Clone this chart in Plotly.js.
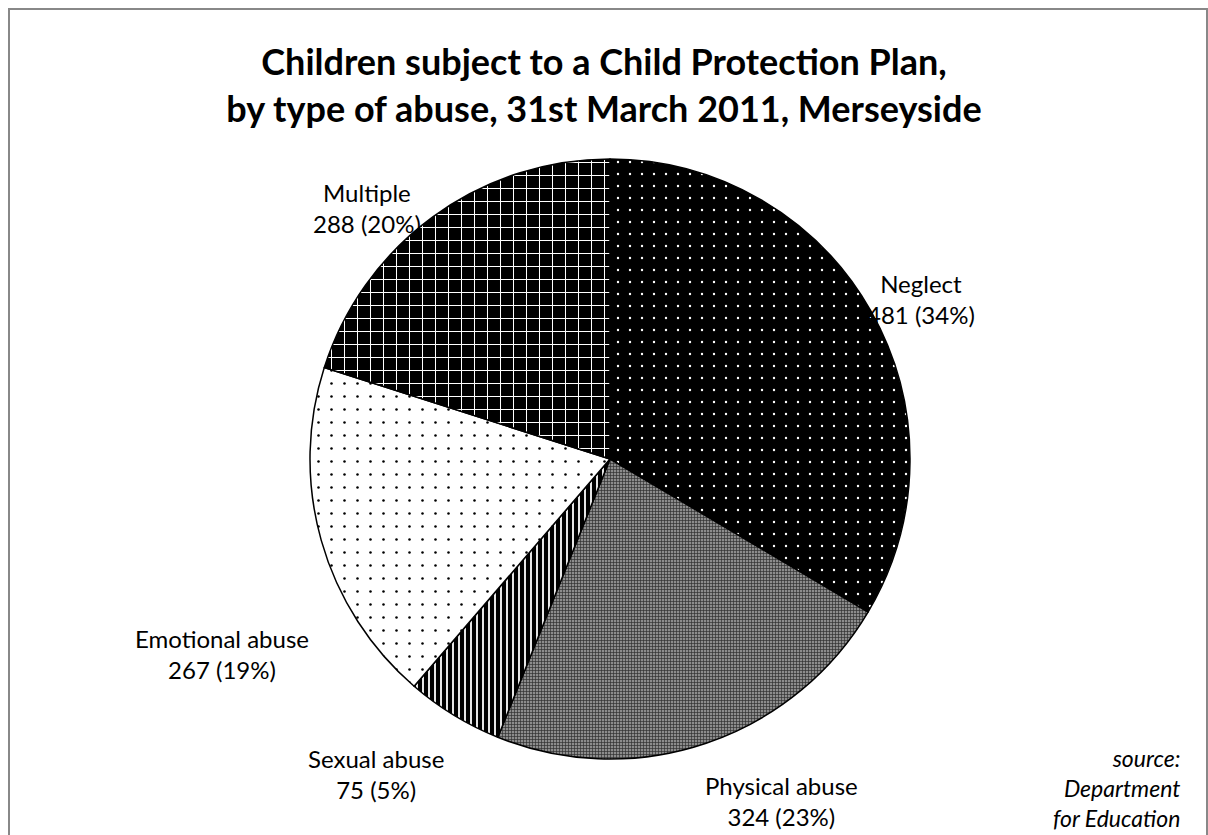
<!DOCTYPE html>
<html>
<head>
<meta charset="utf-8">
<script src="https://cdn.plot.ly/plotly-3.0.1.min.js"></script>
<style>html,body{margin:0;padding:0;background:#fff;}#chart{width:1208px;height:835px;}</style>
</head>
<body>
<div id="chart"></div>
<script>
const categories = ["Neglect", "Physical abuse", "Sexual abuse", "Emotional abuse", "Multiple"];
const counts = [481, 324, 75, 267, 288];
const titleLines = ["Children subject to a Child Protection Plan,", "by type of abuse, 31st March 2011, Merseyside"];
const sourceLines = ["source:", "Department", "for Education"];

const total = counts.reduce((a, b) => a + b, 0);
const labelText = categories.map((c, i) => c + "<br>" + counts[i] + " (" + Math.round(counts[i] / total * 100) + "%)");

const W = 1208, H = 835;
const cx = 610, cy = 459, r = 300;
const px = x => x / W;
const py = y => 1 - y / H;

const patterns = [
  {shape: ".", bgcolor: "#000000", fgcolor: "#ffffff", size: 12, solidity: 0.03},
  {shape: "+", bgcolor: "#8c8c8c", fgcolor: "#303030", size: 3, solidity: 0.4},
  {shape: "|", bgcolor: "#000000", fgcolor: "#ffffff", size: 6, solidity: 0.3},
  {shape: ".", bgcolor: "#ffffff", fgcolor: "#000000", size: 13, solidity: 0.03},
  {shape: "+", bgcolor: "#000000", fgcolor: "#ffffff", size: 13, solidity: 0.15}
];

const trace = {
  type: "pie",
  labels: categories,
  values: counts,
  sort: false,
  direction: "clockwise",
  rotation: 0,
  textinfo: "none",
  hoverinfo: "label+value+percent",
  marker: {
    colors: ["#000000", "#8c8c8c", "#000000", "#ffffff", "#000000"],
    line: {color: "#000000", width: 1.5},
    pattern: {
      shape: patterns.map(p => p.shape),
      bgcolor: patterns.map(p => p.bgcolor),
      fgcolor: patterns.map(p => p.fgcolor),
      size: patterns.map(p => p.size),
      solidity: patterns.map(p => p.solidity),
      fillmode: "replace"
    }
  },
  domain: {x: [px(cx - r), px(cx + r)], y: [py(cy + r), py(cy - r)]},
  showlegend: false
};

const labelPos = [
  [921, 299], [781, 801], [376, 774], [222, 654], [367, 208]
];

const font = {family: "Lato, 'Open Sans', sans-serif", size: 24, color: "#000000"};
const annotations = labelText.map((t, i) => ({
  text: t, x: px(labelPos[i][0]), y: py(labelPos[i][1]), xref: "paper", yref: "paper",
  xanchor: "center", yanchor: "middle", showarrow: false, align: "center", font: font
}));
annotations.push({
  text: "<i>" + sourceLines.join("<br>") + "</i>", x: px(1182), y: py(788), xref: "paper", yref: "paper",
  xanchor: "right", yanchor: "middle", showarrow: false, align: "right",
  font: {family: font.family, size: 23, color: "#000000"}
});

const layout = {
  width: W, height: H,
  margin: {l: 0, r: 0, t: 0, b: 0},
  paper_bgcolor: "#ffffff",
  title: {
    text: "<b>" + titleLines.join("<br>") + "</b>",
    x: 0.5, xanchor: "center", y: py(75), yanchor: "middle", yref: "container",
    font: {family: "Lato, 'Open Sans', sans-serif", size: 36, color: "#000000"}
  },
  annotations: annotations,
  shapes: [{
    type: "rect", xref: "paper", yref: "paper",
    x0: px(9), x1: px(1207), y0: py(840), y1: py(9),
    line: {color: "#888888", width: 2}
  }]
};

Plotly.newPlot("chart", [trace], layout, {displayModeBar: false, staticPlot: true});
</script>
</body>
</html>
